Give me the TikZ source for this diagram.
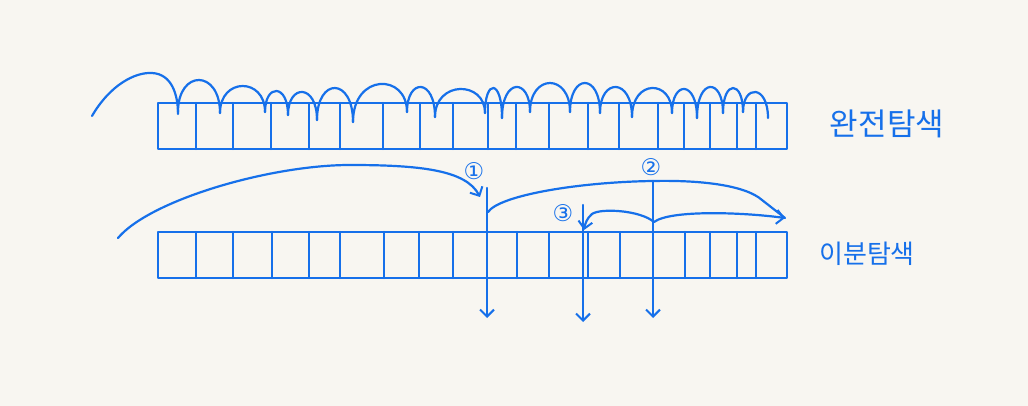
\documentclass[tikz,border=0pt]{standalone}
\usepackage{fontspec}
\newfontfamily\krfont{Noto Sans CJK KR}
\newfontfamily\djfont{DejaVu Sans}
\usetikzlibrary{arrows.meta}
\definecolor{ink}{RGB}{22,112,234}
\definecolor{paper}{RGB}{248,246,241}
\tikzset{
  pen/.style={draw=ink, line width=2.2pt, line cap=round, line join=round},
  bar/.style={pen, rectangle, inner sep=0pt, minimum height=46pt},
  tip/.style={-{Straight Barb[length=7pt,width=14pt,line width=2pt]}},
  lbl/.style={text=ink, font=\krfont},
  num/.style={text=ink, font=\djfont\fontsize{23}{23}\selectfont, inner sep=0pt},
}
\begin{document}
\begin{tikzpicture}[x=1pt,y=-1pt]
\fill[paper] (0,0) rectangle (1028,406);
\useasboundingbox (0,0) rectangle (1028,406);
% bars
\node[bar, minimum width=629pt] (topbar) at (472.5,126) {};
\node[bar, minimum width=629pt] (botbar) at (472.5,255) {};
\foreach \x in {196,233,271,309,340,383,420,453,488,516,549,588,619,658,684,710,737,756}
  \draw[pen] (\x,103) -- (\x,149);
\foreach \x in {196,233,272,309,340,384,419,453,517,549,588,620,685,710,737,756}
  \draw[pen] (\x,232) -- (\x,278);
% top hops
\draw[pen] (92,116) .. controls (110,85) and (135,72) .. (152,73) .. controls (172,74) and (178,95) .. (178,114);
\foreach \xa/\ya/\xb/\yb/\py in {178/112/220/113/80, 220/113/265/112/86, 265/112/288/115/91, 288/115/317/120/92, 317/120/353/122/88, 353/122/407/112/84, 407/112/435/117/87, 435/117/485/113/89, 485/113/502/118/88, 502/118/530/112/87, 530/112/570/112/83, 570/112/600/113/83, 600/113/632/117/87, 632/117/672/113/88, 672/113/697/118/89, 697/118/723/113/87, 723/113/743/112/88, 743/112/768/118/92}
{
  \pgfmathsetmacro\cy{(8*\py-\ya-\yb)/6}
  \draw[pen] (\xa,\ya) .. controls (\xa,\cy) and (\xb,\cy) .. (\xb,\yb);
}
% labels
\node[lbl, font=\krfont\fontsize{31}{31}\selectfont] (full) at (887,124) {완전탐색};
\node[lbl, font=\krfont\fontsize{26}{26}\selectfont] (bin) at (867,254) {이분탐색};
\node[num] (n1) at (474,171) {①};
\node[num] (n2) at (651,167) {②};
\node[num] (n3) at (563,213) {③};
% binary search annotations
\coordinate (s1) at (118,238);
\coordinate (e1) at (480,197);
\coordinate (v1t) at (487,188);
\coordinate (v1b) at (487,318);
\coordinate (v2t) at (653,181);
\coordinate (v2b) at (653,318);
\coordinate (v3t) at (583,205);
\coordinate (v3b) at (583,322);
\coordinate (rt) at (785,218);
\coordinate (m2) at (654,222);
\coordinate (e3) at (584,230);
\draw[pen, tip] (s1) .. controls (150,200) and (270,165) .. (350,165) .. controls (420,165) and (466,170) .. (e1);
\draw[pen, tip] (v1t) -- (v1b);
\draw[pen, tip] (v2t) -- (v2b);
\draw[pen, tip] (v3t) -- (v3b);
\draw[pen] (488,212) .. controls (500,195) and (580,182) .. (v2t) .. controls (700,180) and (745,185) .. (762,200) -- (rt);
\draw[pen, tip] (m2) .. controls (670,210) and (740,212) .. (rt);
\draw[pen, tip] (m2) .. controls (640,210) and (600,208) .. (592,214) .. controls (587,218) and (585,224) .. (e3);
\end{tikzpicture}
\end{document}
